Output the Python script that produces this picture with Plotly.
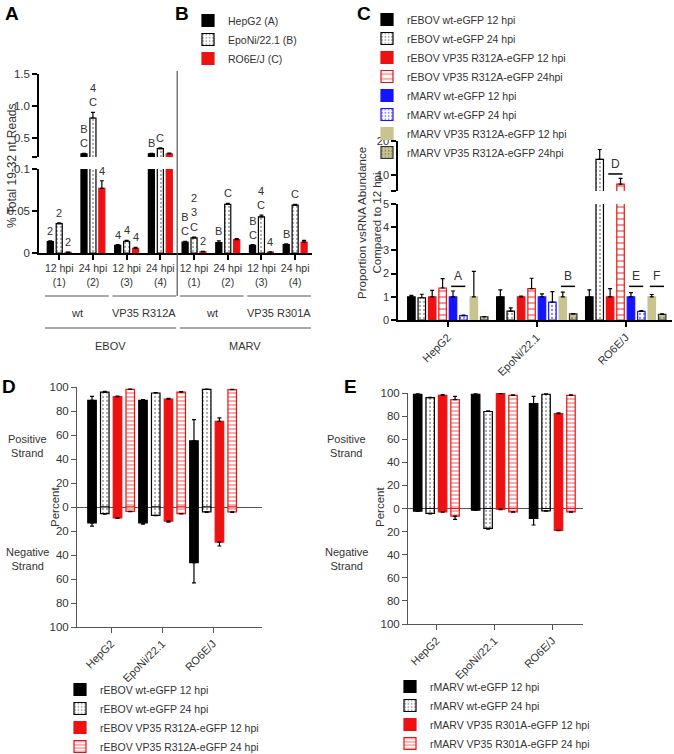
import plotly.graph_objects as go

W, H = 674, 754
FONT = "Arial, Liberation Sans, sans-serif"
RED, BLUE, KHAKI = "#ee1111", "#1414ff", "#c9c48f"

# ---- A / B : % of 19-32 nt reads (broken y axis) ----
ab_ticks = ["12 hpi<br>(1)", "24 hpi<br>(2)", "12 hpi<br>(3)", "24 hpi<br>(4)"] * 2
ab_names = ["HepG2 (A)", "EpoNi/22.1 (B)", "RO6E/J (C)"]
ab_values = [
    [0.0135, 0.25, 0.009, 0.25, 0.013, 0.0125, 0.009, 0.010],
    [0.035, 0.81, 0.014, 0.33, 0.018, 0.058, 0.043, 0.057],
    [0.0008, 0.077, 0.0056, 0.25, 0.0015, 0.016, 0.001, 0.013],
]
ab_errors = [
    [0.001, 0.005, 0.001, 0.005, 0.001, 0.002, 0.001, 0.001],
    [0.001, 0.09, 0.001, 0.012, 0.001, 0.001, 0.002, 0.001],
    [0.0003, 0.009, 0.001, 0.012, 0.0005, 0.001, 0.0003, 0.002],
]
ab_letters = [
    ["2", "B<br>C", "4", "B", "B<br>C", "B", "B<br>C", "B"],
    ["2", "4<br>C", "4", "C", "2<br>3<br>C", "C", "4<br>C", "C"],
    ["2", "4", "4", "", "2", "", "4", ""],
]
ab_strains = ["wt", "VP35 R312A", "wt", "VP35 R301A"]
ab_viruses = ["EBOV", "MARV"]
ab_low_ticks, ab_low_labels = [0, 0.05, 0.1], ["0", "0.05", "0.1"]
ab_high_ticks, ab_high_labels = [0.2, 0.5, 1.0, 1.5], ["", "0.5", "1.0", "1.5"]

# ---- C : vsRNA abundance relative to 12 hpi (broken y axis) ----
c_cells = ["HepG2", "EpoNi/22.1", "RO6E/J"]
c_names = [
    "rEBOV wt-eGFP 12 hpi",
    "rEBOV wt-eGFP 24 hpi",
    "rEBOV VP35 R312A-eGFP 12 hpi",
    "rEBOV VP35 R312A-eGFP 24hpi",
    "rMARV wt-eGFP 12 hpi",
    "rMARV wt-eGFP 24 hpi",
    "rMARV VP35 R312A-eGFP 12 hpi",
    "rMARV VP35 R312A-eGFP 24hpi",
]
c_values = [
    [1.0, 1.0, 1.0],
    [0.96, 0.38, 14.6],
    [1.0, 1.0, 1.0],
    [1.38, 1.35, 7.3],
    [1.0, 1.0, 1.0],
    [0.19, 0.77, 0.37],
    [1.0, 1.0, 1.0],
    [0.14, 0.26, 0.24],
]
c_errors = [
    [0.06, 0.3, 0.3],
    [0.15, 0.14, 2.9],
    [0.28, 0.03, 0.35],
    [0.4, 0.45, 1.7],
    [0.25, 0.13, 0.18],
    [0.02, 0.45, 0.04],
    [1.1, 0.2, 0.1],
    [0.01, 0.02, 0.02],
]
c_sig_text = ["A", "B", "C", "D", "E", "F"]
c_sig_cell = [0, 1, 2, 2, 2, 2]
c_sig_first = [4, 6, 0, 2, 4, 6]
c_sig_level = [1.45, 1.45, 20.4, 10.3, 1.45, 1.45]
c_low_ticks = [0, 1, 2, 3, 4, 5]
c_high_ticks, c_high_labels = [5.3, 10, 20], ["", "10", "20"]

# ---- D / E : strand of origin (percent) ----
strand_cells = ["HepG2", "EpoNi/22.1", "RO6E/J"]
pct_ticks = [-100, -80, -60, -40, -20, 0, 20, 40, 60, 80, 100]
pct_labels = ["100", "80", "60", "40", "20", "0", "20", "40", "60", "80", "100"]

d_names = [
    "rEBOV wt-eGFP 12 hpi",
    "rEBOV wt-eGFP 24 hpi",
    "rEBOV VP35 R312A-eGFP 12 hpi",
    "rEBOV VP35 R312A-eGFP 24 hpi",
]
d_pos = [[88.8, 88.8, 55.2], [95.8, 95.0, 98.0], [92.0, 89.9, 71.4], [98.0, 95.8, 97.8]]
d_pos_err = [[3.4, 0.6, 17.6], [0.6, 0.4, 0.3], [0.5, 0.6, 2.8], [0.3, 0.3, 0.3]]
d_neg = [[-13.2, -13.2, -46.3], [-5.5, -6.9, -4.1], [-9.1, -11.8, -29.2], [-3.6, -5.5, -4.1]]
d_neg_err = [[2.8, 1.0, 17.0], [0.5, 0.3, 0.3], [0.5, 0.8, 3.3], [0.3, 0.3, 0.3]]

e_names = [
    "rMARV wt-eGFP 12 hpi",
    "rMARV wt-eGFP 24 hpi",
    "rMARV VP35 R301A-eGFP 12 hpi",
    "rMARV VP35 R301A-eGFP 24 hpi",
]
e_pos = [[98.9, 98.9, 90.8], [96.0, 84.0, 98.9], [98.0, 99.4, 82.2], [94.3, 98.0, 98.0]]
e_pos_err = [[0.3, 0.3, 6.3], [0.3, 0.6, 0.3], [0.6, 0.3, 0.6], [2.8, 0.3, 0.3]]
e_neg = [[-2.3, -1.4, -8.6], [-4.3, -17.2, -2.0], [-2.9, -0.6, -18.9], [-6.6, -2.9, -2.9]]
e_neg_err = [[0.3, 0.3, 5.7], [0.3, 0.6, 0.3], [0.3, 0.3, 0.3], [2.9, 0.3, 0.3]]


def fx(p):
    return p / W


def fy(p):
    return 1 - p / H


def centred(n, step):
    return [(i - (n - 1) / 2) * step for i in range(n)]


def marker(fill, edge, shape="", fg=None, size=4, solidity=0.3):
    m = dict(color=fill, line=dict(color=edge, width=1.2))
    if shape:
        m["pattern"] = dict(shape=shape, fgcolor=fg, bgcolor=fill, size=size, solidity=solidity)
    return m


def err(e, down=False):
    zeros = [0] * len(e)
    return dict(type="data", symmetric=False, array=zeros if down else e,
                arrayminus=e if down else zeros, color="black", thickness=1.2, width=2)


def axis(**kw):
    base = dict(showline=True, linecolor="black", linewidth=1.5, ticks="outside", ticklen=5,
                tickwidth=1.5, tickcolor="black", showgrid=False, zeroline=False,
                tickfont=dict(size=11.5, color="#333"))
    base.update(kw)
    return base


dots = lambda edge, fg: marker("white", edge, ".", fg, 4, 0.25)
ab_styles = [marker("black", "black"), dots("black", "#555"), marker(RED, RED)]
c_styles = [
    marker("black", "black"),
    dots("black", "#555"),
    marker(RED, RED),
    marker("white", RED, "-", RED, 6, 0.3),
    marker(BLUE, BLUE),
    dots(BLUE, BLUE),
    marker(KHAKI, KHAKI),
    marker(KHAKI, "#333", ".", "#555", 4, 0.25),
]
strand_styles = [marker("black", "black"), dots("black", "#555"), marker(RED, RED),
                 marker("white", RED, "-", RED, 4, 0.35)]

fig = go.Figure()

# A / B bars, drawn on both halves of the broken axis
ab_w = 0.18
ab_offs = centred(3, 0.265)
for i in range(3):
    for ya, show in (("y", True), ("y2", False)):
        fig.add_trace(go.Bar(x=list(range(8)), y=ab_values[i], error_y=err(ab_errors[i]),
                             width=ab_w, offset=ab_offs[i] - ab_w / 2, marker=ab_styles[i],
                             name=ab_names[i], legend="legend", legendgroup="ab%d" % i,
                             showlegend=show, xaxis="x", yaxis=ya))
    for k, txt in enumerate(ab_letters[i]):
        if not txt:
            continue
        top = ab_values[i][k] + ab_errors[i][k]
        fig.add_annotation(x=k + ab_offs[i], y=top, xref="x", yref="y2" if top > 0.1 else "y",
                           text=txt, showarrow=False, yanchor="bottom", yshift=2,
                           font=dict(size=11, color="#333"))

# C bars
c_w = 0.084
c_offs = centred(8, 0.117)
for i in range(8):
    for ya, show in (("y3", True), ("y4", False)):
        fig.add_trace(go.Bar(x=list(range(3)), y=c_values[i], error_y=err(c_errors[i]),
                             width=c_w, offset=c_offs[i] - c_w / 2, marker=c_styles[i],
                             name=c_names[i], legend="legend2", legendgroup="c%d" % i,
                             showlegend=show, xaxis="x2", yaxis=ya))
for txt, cell, first, level in zip(c_sig_text, c_sig_cell, c_sig_first, c_sig_level):
    ya = "y4" if level > 5 else "y3"
    x0 = cell + c_offs[first] - 0.25 * c_w
    x1 = cell + c_offs[first + 1] + 0.25 * c_w
    fig.add_shape(type="line", xref="x2", yref=ya, x0=x0, x1=x1, y0=level, y1=level,
                  line=dict(color="black", width=1.5))
    fig.add_annotation(x=(x0 + x1) / 2, y=level, xref="x2", yref=ya, text=txt, showarrow=False,
                       yanchor="bottom", yshift=1, font=dict(size=12, color="#333"))


# D / E bars: positive strand up, negative strand down
def strand_panel(names, pos, pos_err, neg, neg_err, xa, ya, leg, step, width):
    offs = centred(4, step)
    for i in range(4):
        for vals, e, down, show in ((pos[i], pos_err[i], False, True),
                                    (neg[i], neg_err[i], True, False)):
            fig.add_trace(go.Bar(x=list(range(3)), y=vals, error_y=err(e, down), width=width,
                                 offset=offs[i] - width / 2, marker=strand_styles[i],
                                 name=names[i], legend=leg, legendgroup=leg + str(i),
                                 showlegend=show, xaxis=xa, yaxis=ya))


strand_panel(d_names, d_pos, d_pos_err, d_neg, d_neg_err, "x3", "y5", "legend3", 0.25, 0.167)
strand_panel(e_names, e_pos, e_pos_err, e_neg, e_neg_err, "x4", "y6", "legend4", 0.215, 0.146)

# group brackets under A / B
for j, name in enumerate(ab_strains):
    x0, x1 = 2 * j - 0.42, 2 * j + 1.47
    fig.add_shape(type="line", xref="x", yref="paper", x0=x0, x1=x1, y0=fy(296), y1=fy(296),
                  line=dict(color="#555", width=1))
    fig.add_annotation(x=(x0 + x1) / 2, y=fy(313), xref="x", yref="paper", text=name,
                       showarrow=False, font=dict(size=11, color="#333"))
for j, name in enumerate(ab_viruses):
    x0, x1 = 4 * j - 0.42, 4 * j + 3.47
    fig.add_shape(type="line", xref="x", yref="paper", x0=x0, x1=x1, y0=fy(328), y1=fy(328),
                  line=dict(color="#555", width=1))
    fig.add_annotation(x=(x0 + x1) / 2, y=fy(346), xref="x", yref="paper", text=name,
                       showarrow=False, font=dict(size=11, color="#333"))
fig.add_shape(type="line", xref="x", yref="paper", x0=3.5, x1=3.5, y0=fy(296), y1=fy(71),
              line=dict(color="#555", width=1.2))

# panel letters and free-standing titles
labels = [
    ("A", 12, 13, 0, 19, True), ("B", 182, 13, 0, 19, True), ("C", 364, 13, 0, 19, True),
    ("D", 9, 386, 0, 19, True), ("E", 350, 386, 0, 19, True),
    ("% Total 19-32 nt Reads", 12, 166, -90, 12, False),
    ("Proportion vsRNA Abundance<br>Compared to 12 hpi", 370, 223, -90, 11.5, False),
    ("Percent", 55, 507, -90, 11.5, False), ("Percent", 380, 507, -90, 11.5, False),
    ("Positive<br>Strand", 27, 446, 0, 11, False), ("Negative<br>Strand", 27, 559, 0, 11, False),
    ("Positive<br>Strand", 347, 446, 0, 11, False), ("Negative<br>Strand", 346, 559, 0, 11, False),
]
for txt, x, y, ang, size, bold in labels:
    fig.add_annotation(x=fx(x), y=fy(y), xref="paper", yref="paper", showarrow=False,
                       xanchor="center", yanchor="middle",
                       text="<b>%s</b>" % txt if bold else txt, textangle=ang,
                       font=dict(size=size, color="black" if bold else "#333"))

leg = dict(xanchor="left", yanchor="top", bgcolor="rgba(0,0,0,0)", itemwidth=30,
           tracegroupgap=0, font=dict(size=10.5, color="#333"))
fig.update_layout(
    width=W, height=H, margin=dict(l=0, r=0, t=0, b=0, autoexpand=False),
    plot_bgcolor="white", paper_bgcolor="white",
    font=dict(family=FONT, color="#333"),
    barmode="overlay",
    xaxis=axis(domain=[fx(39), fx(312)], anchor="y", range=[-0.6, 7.5],
               tickvals=list(range(8)), ticktext=ab_ticks, tickfont=dict(size=10.5, color="#333")),
    yaxis=axis(domain=[fy(253), fy(169)], anchor="x", range=[0, 0.1],
               tickvals=ab_low_ticks, ticktext=ab_low_labels),
    yaxis2=axis(domain=[fy(157), fy(74)], anchor="x", range=[0.199, 1.5],
                tickvals=ab_high_ticks, ticktext=ab_high_labels),
    xaxis2=axis(domain=[fx(398), fx(672)], anchor="y3", range=[-0.56, 2.52],
                tickvals=list(range(3)), ticktext=c_cells, tickangle=-45,
                tickfont=dict(size=11, color="#333")),
    yaxis3=axis(domain=[fy(320), fy(204)], anchor="x2", range=[0, 5], tickvals=c_low_ticks,
                tickfont=dict(size=11, color="#333")),
    yaxis4=axis(domain=[fy(191), fy(141)], anchor="x2", range=[5.29, 20],
                tickvals=c_high_ticks, ticktext=c_high_labels, tickfont=dict(size=11, color="#333")),
    xaxis3=axis(domain=[fx(77), fx(262)], anchor="y5", range=[-0.67, 2.96],
                tickvals=list(range(3)), ticktext=strand_cells, tickangle=-45,
                linecolor="#555", linewidth=1, tickcolor="#555", tickwidth=1,
                tickfont=dict(size=11, color="#333")),
    yaxis5=axis(domain=[fy(627), fy(387)], anchor="x3", range=[-100, 100],
                tickvals=pct_ticks, ticktext=pct_labels, zeroline=True, zerolinecolor="#555",
                zerolinewidth=1, linecolor="#555", linewidth=1, tickcolor="#555", tickwidth=1),
    xaxis4=axis(domain=[fx(408), fx(583)], anchor="y6", range=[-0.49, 2.53],
                tickvals=list(range(3)), ticktext=strand_cells, tickangle=-45,
                linecolor="#555", linewidth=1, tickcolor="#555", tickwidth=1,
                tickfont=dict(size=11, color="#333")),
    yaxis6=axis(domain=[fy(624), fy(393)], anchor="x4", range=[-100, 100],
                tickvals=pct_ticks, ticktext=pct_labels, zeroline=True, zerolinecolor="#555",
                zerolinewidth=1, linecolor="#555", linewidth=1, tickcolor="#555", tickwidth=1),
    legend=dict(leg, x=fx(188), y=fy(6)),
    legend2=dict(leg, x=fx(367), y=fy(5)),
    legend3=dict(leg, x=fx(60), y=fy(675)),
    legend4=dict(leg, x=fx(390), y=fy(672)),
)

fig.write_html("out.html", config={"displayModeBar": False},
               post_script="document.body.style.margin = '0';")
